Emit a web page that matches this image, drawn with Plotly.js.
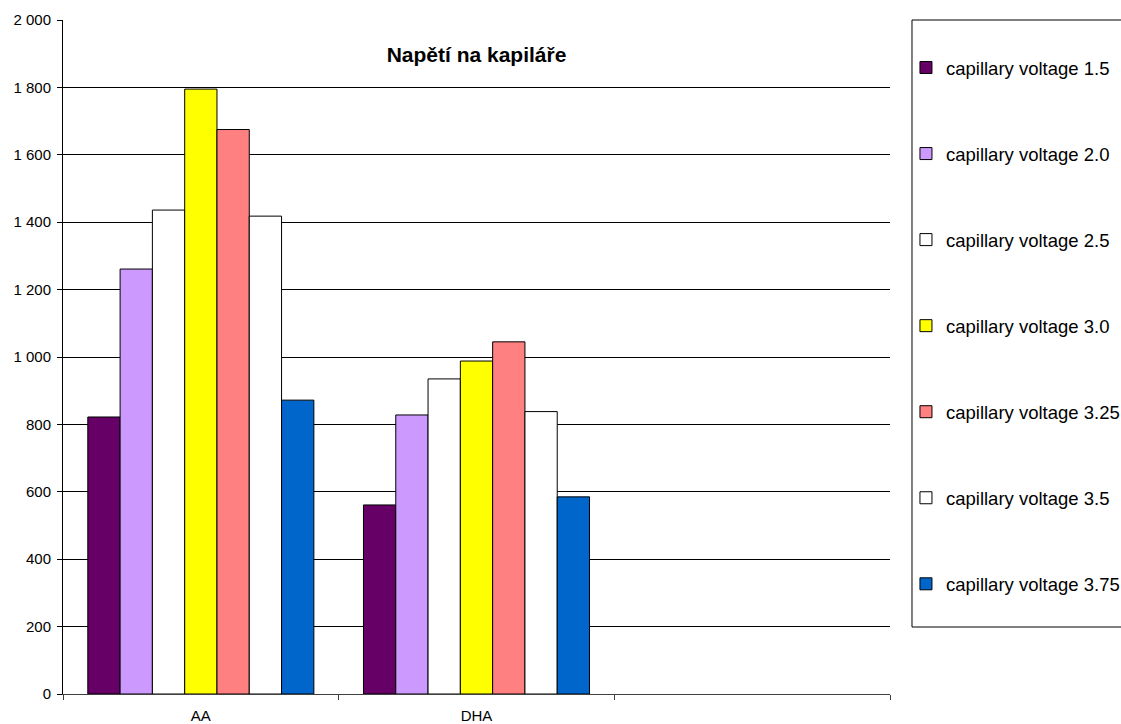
<!DOCTYPE html>
<html>
<head>
<meta charset="utf-8">
<script src="https://cdn.plot.ly/plotly-3.0.1.min.js"></script>
<style>
  html, body { margin: 0; padding: 0; background: #fff; }
  #chart { width: 1121px; height: 724px; }
</style>
</head>
<body>
<div id="chart"></div>
<script>
// Analytes on the category axis; the third slot stays empty
const categories = ['AA', 'DHA', ' '];

// Series names and measured responses per analyte
const seriesNames = [
  'capillary voltage 1.5',
  'capillary voltage 2.0',
  'capillary voltage 2.5',
  'capillary voltage 3.0',
  'capillary voltage 3.25',
  'capillary voltage 3.5',
  'capillary voltage 3.75'
];
const cv15  = [822, 561, null];
const cv20  = [1261, 828, null];
const cv25  = [1436, 935, null];
const cv30  = [1795, 988, null];
const cv325 = [1675, 1045, null];
const cv35  = [1418, 838, null];
const cv375 = [872, 585, null];

const seriesValues = [cv15, cv20, cv25, cv30, cv325, cv35, cv375];
const seriesColors = ['#660066', '#CC99FF', '#FFFFFF', '#FFFF00', '#FF8080', '#FFFFFF', '#0066CC'];

const traces = seriesNames.map((name, i) => ({
  type: 'bar',
  name: name,
  x: categories,
  y: seriesValues[i],
  legendgroup: 'g' + i,
  marker: {
    color: seriesColors[i],
    line: { color: '#000000', width: 1 }
  },
  hoverinfo: 'x+y+name'
}));

const font = 'Liberation Sans, Arial, sans-serif';

const layout = {
  width: 1121,
  height: 724,
  paper_bgcolor: '#ffffff',
  plot_bgcolor: '#ffffff',
  separators: ', ',
  font: { family: font, size: 15, color: '#000000' },
  margin: { l: 63, r: 231, t: 20, b: 30, autoexpand: false },
  barmode: 'group',
  bargap: 0.18,
  bargroupgap: 0,
  title: {
    text: '<b>Napětí na kapiláře</b>',
    font: { family: font, size: 21, color: '#000000' },
    x: 0.5,
    xref: 'paper',
    xanchor: 'center',
    y: 0.924,
    yref: 'container',
    yanchor: 'middle'
  },
  xaxis: {
    type: 'category',
    categoryorder: 'array',
    categoryarray: categories,
    range: [-0.5, 2.5],
    tickson: 'boundaries',
    ticks: 'outside',
    ticklen: 5,
    tickcolor: '#404040',
    ticklabelstandoff: 8,
    showline: true,
    linecolor: '#404040',
    linewidth: 1,
    showgrid: false,
    zeroline: false,
    tickfont: { family: font, size: 15, color: '#000000' },
    fixedrange: true
  },
  yaxis: {
    range: [0, 2000],
    dtick: 200,
    tick0: 0,
    tickformat: ',d',
    ticks: 'outside',
    ticklen: 5,
    tickcolor: '#000000',
    ticklabelstandoff: 3,
    showline: true,
    linecolor: '#000000',
    linewidth: 1,
    showgrid: true,
    gridcolor: '#000000',
    gridwidth: 1,
    zeroline: false,
    tickfont: { family: font, size: 15, color: '#000000' },
    fixedrange: true
  },
  // Frame around the legend area
  shapes: [{
    type: 'rect',
    xref: 'paper', yref: 'paper',
    x0: 1.0266, x1: 1.30,
    y0: 0.0994, y1: 1,
    line: { color: '#000000', width: 1 },
    fillcolor: 'rgba(0,0,0,0)',
    layer: 'below'
  }],
  showlegend: true,
  legend: {
    x: 1.0193,
    xanchor: 'left',
    xref: 'paper',
    y: 0.957,
    yanchor: 'top',
    yref: 'paper',
    traceorder: 'grouped',
    tracegroupgap: 59,
    borderwidth: 0,
    bgcolor: 'rgba(0,0,0,0)',
    font: { family: font, size: 18.5, color: '#000000' },
    itemwidth: 30
  }
};

Plotly.newPlot('chart', traces, layout, { displayModeBar: false, staticPlot: true });
</script>
</body>
</html>
